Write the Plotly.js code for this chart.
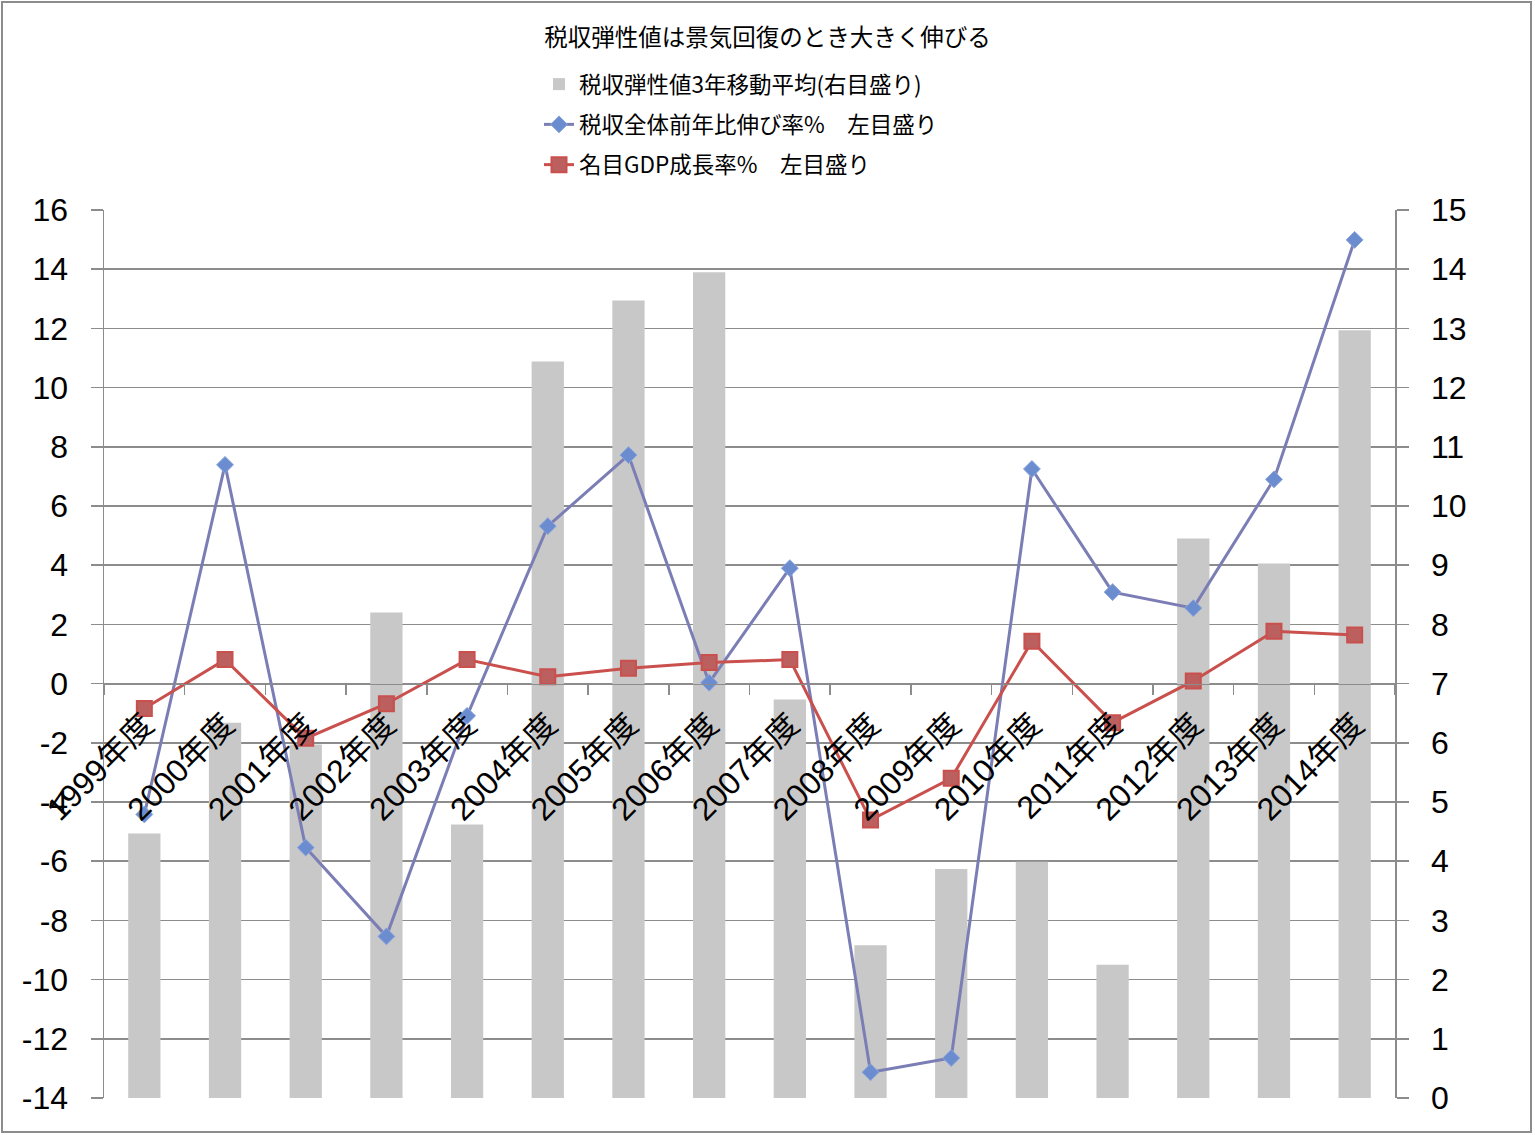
<!DOCTYPE html>
<html>
<head>
<meta charset="utf-8">
<script src="https://cdn.plot.ly/plotly-3.0.1.min.js"></script>
<style>
  html, body { margin: 0; padding: 0; background: #ffffff; }
  #chart { width: 1535px; height: 1135px; }
</style>
</head>
<body>
<div id="chart"></div>
<script>
// ---- data ----
const categories = ["1999年度","2000年度","2001年度","2002年度","2003年度","2004年度","2005年度","2006年度",
                    "2007年度","2008年度","2009年度","2010年度","2011年度","2012年度","2013年度","2014年度"];
const elasticity3yAvg = [4.47, 6.34, 5.97, 8.20, 4.62, 12.44, 13.47, 13.95, 6.73, 2.58, 3.87, 3.99, 2.25, 9.45, 9.03, 12.97];
const taxRevenueGrowth = [-4.42, 7.39, -5.54, -8.54, -1.09, 5.32, 7.72, 0.03, 3.90, -13.13, -12.65, 7.25, 3.09, 2.55, 6.90, 14.99];
const nominalGdpGrowth = [-0.84, 0.81, -1.85, -0.68, 0.81, 0.23, 0.52, 0.71, 0.81, -4.61, -3.20, 1.43, -1.32, 0.09, 1.77, 1.64];
const seriesNames = ["税収弾性値3年移動平均(右目盛り)", "税収全体前年比伸び率%　左目盛り", "名目GDP成長率%　左目盛り"];
const titleText = "税収弾性値は景気回復のとき大きく伸びる";
const leftTickVals = [-14, -12, -10, -8, -6, -4, -2, 0, 2, 4, 6, 8, 10, 12, 14, 16];
const leftTickText = ["-14", "-12", "-10", "-8", "-6", "-4", "-2", "0", "2", "4", "6", "8", "10", "12", "14", "16"];

// ---- layout constants ----
const W = 1535, H = 1135;
const M = { l: 104, r: 140, t: 210, b: 37 };
const PW = W - M.l - M.r, PH = H - M.t - M.b;
const px = v => (v - M.l) / PW;
const py = v => (H - M.b - v) / PH;

const FONT = "Liberation Sans, Arial, Noto Sans CJK JP, sans-serif";
const CJK = "Noto Sans CJK JP, Liberation Sans, sans-serif";
const GRID = "#8c8c8c";

const traces = [
  {
    type: "bar", name: seriesNames[0], x: categories, y: elasticity3yAvg,
    yaxis: "y", marker: { color: "#c8c8c8" }, legendgroup: "a"
  },
  {
    type: "scatter", mode: "lines+markers", name: seriesNames[1], x: categories, y: taxRevenueGrowth,
    yaxis: "y2", line: { color: "#7b7db5", width: 3 },
    marker: { symbol: "diamond", size: 13, color: "#6b8dcf", line: { color: "#8aa6dc", width: 1 } },
    legendgroup: "b"
  },
  {
    type: "scatter", mode: "lines+markers", name: seriesNames[2], x: categories, y: nominalGdpGrowth,
    yaxis: "y2", line: { color: "#c9504d", width: 3 },
    marker: { symbol: "square", size: 15, color: "#bb5f5f", line: { color: "#c9504d", width: 2 } },
    legendgroup: "c"
  }
];

const layout = {
  width: W, height: H,
  margin: M,
  paper_bgcolor: "#ffffff", plot_bgcolor: "#ffffff",
  font: { family: FONT, color: "#000000" },
  showlegend: true,
  bargap: 0.6,
  title: {
    text: titleText, font: { family: CJK, size: 23.5, color: "#000" },
    x: 0.5, xref: "container", xanchor: "center",
    y: 1 - 38 / H, yref: "container", yanchor: "middle"
  },
  legend: {
    x: px(539), xanchor: "left", y: py(63), yanchor: "top",
    font: { family: CJK, size: 22.5, color: "#000" },
    traceorder: "grouped", tracegroupgap: 8,
    bgcolor: "rgba(0,0,0,0)", itemclick: false
  },
  xaxis: {
    type: "category", anchor: "free", position: 14 / 30,
    range: [-0.5, 15.5],
    showgrid: false, showline: true, linecolor: GRID, linewidth: 1.5,
    ticks: "outside", tickson: "boundaries", ticklen: 10, tickcolor: GRID, tickwidth: 1.5,
    ticklabelstandoff: 8,
    tickangle: -45, tickfont: { family: FONT, size: 32, color: "#000" },
    zeroline: false, fixedrange: true
  },
  yaxis: {
    range: [0, 15], dtick: 1, side: "right",
    showgrid: true, gridcolor: GRID, gridwidth: 1.5,
    showline: true, linecolor: GRID, linewidth: 1.5,
    ticks: "outside", ticklen: 12, tickcolor: GRID, tickwidth: 1.5,
    ticklabelstandoff: 16,
    tickfont: { family: FONT, size: 32, color: "#000" },
    zeroline: false, fixedrange: true
  },
  yaxis2: {
    range: [-14, 16], side: "left", overlaying: "y",
    tickmode: "array", tickvals: leftTickVals, ticktext: leftTickText,
    showgrid: true, gridcolor: GRID, gridwidth: 1.5,
    showline: true, linecolor: GRID, linewidth: 1.5,
    ticks: "outside", ticklen: 12, tickcolor: GRID, tickwidth: 1.5,
    ticklabelstandoff: 16,
    tickfont: { family: FONT, size: 32, color: "#000" },
    zeroline: false, fixedrange: true
  },
  shapes: [
    {
      type: "rect", xref: "paper", yref: "paper",
      x0: px(2), x1: px(1531), y0: py(1132), y1: py(2),
      line: { color: "#8c8c8c", width: 2 }, fillcolor: "rgba(0,0,0,0)", layer: "below"
    }
  ]
};

Plotly.newPlot("chart", traces, layout, { displayModeBar: false, staticPlot: true });
</script>
</body>
</html>
